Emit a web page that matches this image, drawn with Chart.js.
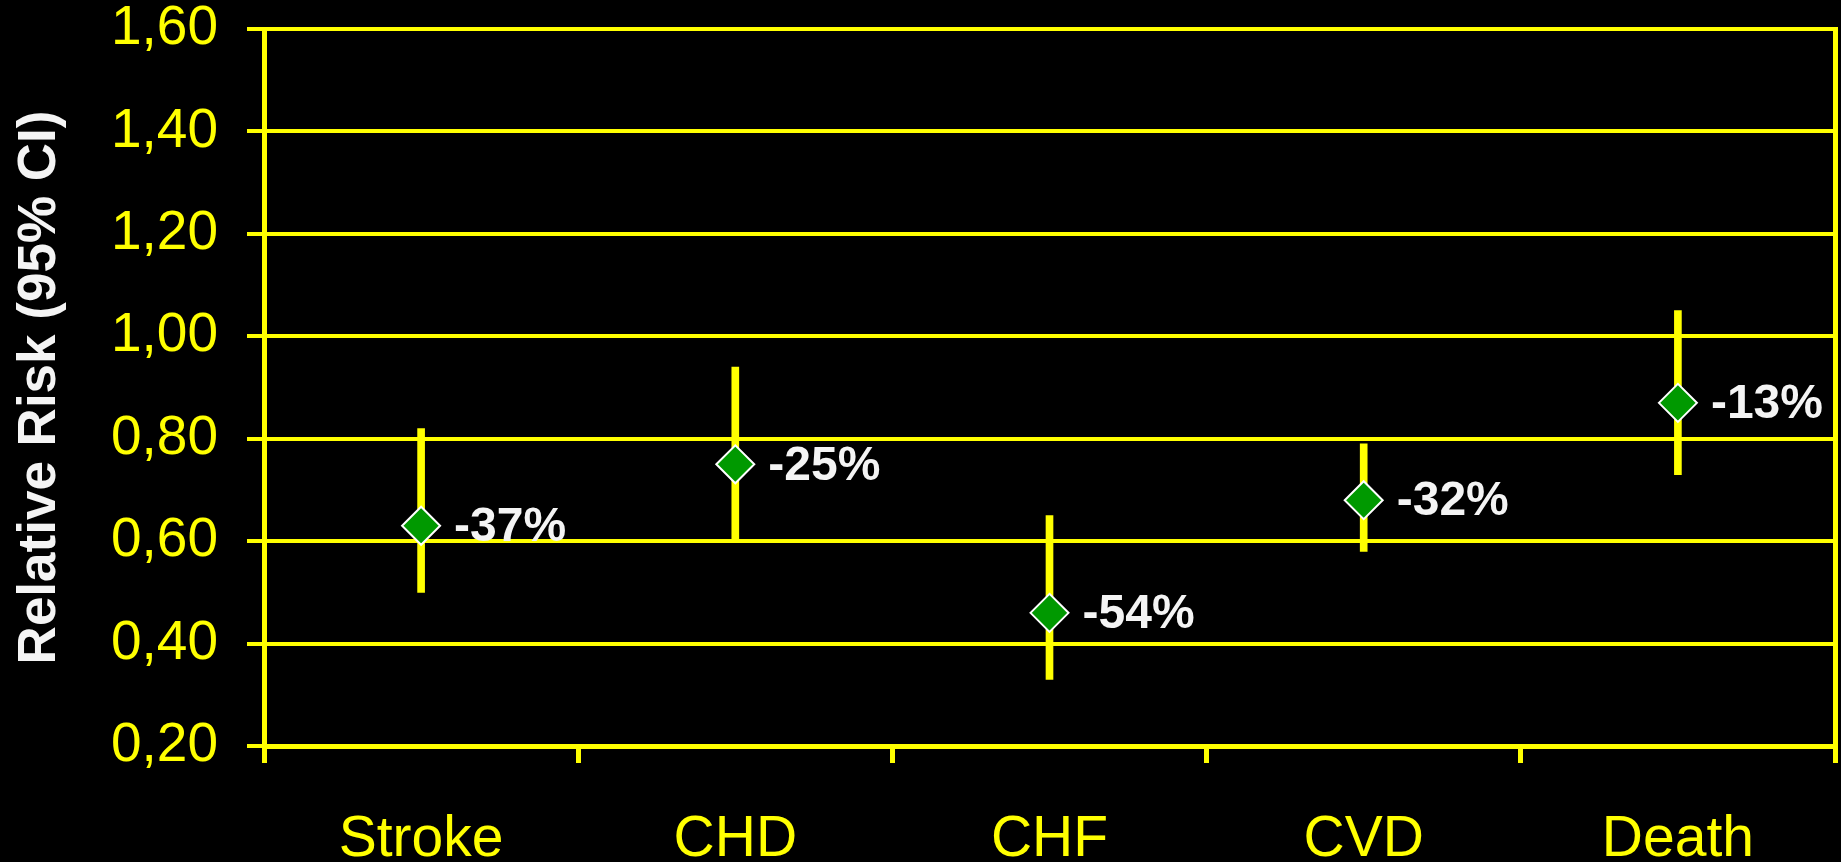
<!DOCTYPE html>
<html>
<head>
<meta charset="utf-8">
<script src="https://cdn.jsdelivr.net/npm/chart.js@4.4.1/dist/chart.umd.min.js"></script>
<style>
    html, body { margin: 0; padding: 0; background: #000000; overflow: hidden; }
    #wrap { width: 1841px; height: 862px; }
    #graph1 { display: block; }
</style>
</head>
<body>
<div id="wrap"><canvas id="graph1"></canvas></div>
<script>
    const categories = ['Stroke', 'CHD', 'CHF', 'CVD', 'Death'];
    const riskValues = [0.63, 0.75, 0.46, 0.68, 0.87];
    const lowerCI = [0.50, 0.60, 0.33, 0.58, 0.73];
    const upperCI = [0.82, 0.94, 0.65, 0.79, 1.05];
    const changeLabels = ['-37%', '-25%', '-54%', '-32%', '-13%'];
    const yTickLabels = ['0,20', '0,40', '0,60', '0,80', '1,00', '1,20', '1,40', '1,60'];

    const yellow = '#FFFF00';
    const fontName = '"Liberation Sans", Arial, sans-serif';

    // floating bars used as the CI whiskers
    const ciRanges = lowerCI.map((lo, i) => [lo, upperCI[i]]);

    const pctLabels = {
        id: 'pctLabels',
        afterDatasetsDraw(chart) {
            const ctx = chart.ctx;
            const meta = chart.getDatasetMeta(1);
            ctx.save();
            ctx.font = 'bold 48px ' + fontName;
            ctx.fillStyle = '#F4F4F4';
            ctx.textAlign = 'left';
            ctx.textBaseline = 'middle';
            meta.data.forEach((pt, i) => {
                ctx.fillText(changeLabels[i], pt.x + 33, pt.y + 2);
            });
            ctx.restore();
        }
    };

    const chart1 = document.getElementById('graph1').getContext('2d');
    const myChart1 = new Chart(chart1, {
        type: 'bar',
        data: {
            labels: categories,
            datasets: [{
                label: '95% CI',
                data: ciRanges,
                backgroundColor: yellow,
                borderWidth: 0,
                barThickness: 7,
                order: 1
            }, {
                type: 'line',
                label: 'Relative Risk',
                data: riskValues,
                showLine: false,
                pointStyle: 'rectRot',
                pointRadius: 19,
                pointBackgroundColor: '#009900',
                pointBorderColor: '#FFFFFF',
                pointBorderWidth: 2,
                order: 0
            }]
        },
        options: {
            responsive: true,
            maintainAspectRatio: false,
            animation: false,
            layout: {
                autoPadding: false,
                padding: { left: 0, right: 6, top: 0, bottom: 0 }
            },
            scales: {
                x: {
                    offset: true,
                    grid: {
                        offset: true,
                        drawOnChartArea: false,
                        color: yellow,
                        lineWidth: 5,
                        tickLength: 17
                    },
                    border: { color: yellow, width: 5 },
                    ticks: {
                        color: yellow,
                        padding: 49,
                        font: { family: fontName, size: 57, lineHeight: 1 }
                    },
                    afterFit: (scale) => { scale.height = 116; }
                },
                y: {
                    min: 0.2,
                    max: 1.6,
                    grid: {
                        color: yellow,
                        lineWidth: 4,
                        tickLength: 17
                    },
                    border: { color: yellow, width: 5 },
                    ticks: {
                        stepSize: 0.2,
                        color: yellow,
                        padding: 29,
                        font: { family: fontName, size: 55, lineHeight: 1 },
                        callback: (value, index) => yTickLabels[index]
                    },
                    title: {
                        display: true,
                        text: 'Relative Risk (95% CI)',
                        color: '#F4F4F4',
                        padding: { top: 9, bottom: 0 },
                        font: { family: fontName, size: 53, weight: 'bold' }
                    },
                    afterFit: (scale) => {
                        scale.width = 264;
                        scale.paddingTop = 29;
                        scale.paddingBottom = 0;
                    }
                },
                y2: {
                    position: 'right',
                    min: 0.2,
                    max: 1.6,
                    grid: { display: false, drawTicks: false },
                    border: { display: true, color: yellow, width: 5 },
                    ticks: { display: false },
                    afterFit: (scale) => { scale.width = 0; }
                }
            },
            plugins: {
                legend: { display: false },
                tooltip: { enabled: false }
            }
        },
        plugins: [pctLabels]
    });
</script>
</body>
</html>
